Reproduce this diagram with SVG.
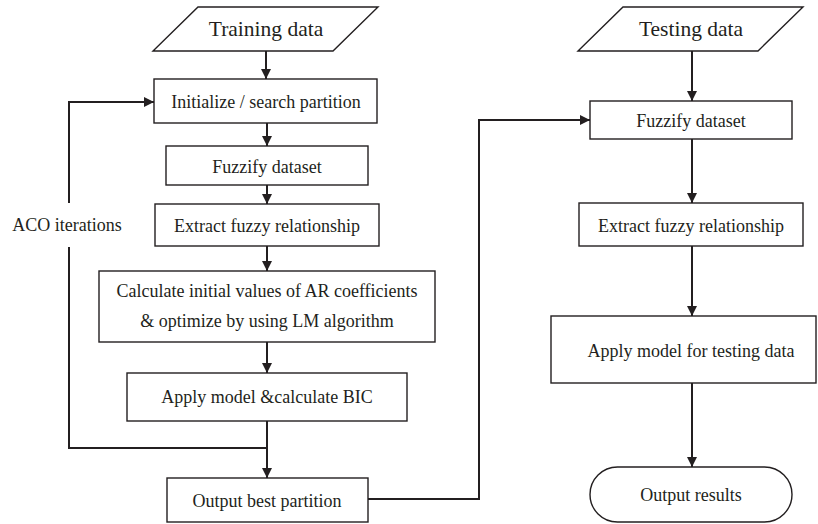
<svg xmlns="http://www.w3.org/2000/svg" width="818" height="524" viewBox="0 0 818 524">
<style>
.b{fill:#fff;stroke:#231f20;stroke-width:1.4}
.t{font-family:"Liberation Serif","Times New Roman",serif;font-size:18px;fill:#231f20;text-anchor:middle}
.tl{font-size:21.5px}
.c{fill:none;stroke:#231f20;stroke-width:2}
</style>
<defs>
<marker id="a" markerUnits="userSpaceOnUse" markerWidth="11" markerHeight="11" refX="10" refY="5" orient="auto">
<path d="M0,0 L10,5 L0,10 z" fill="#231f20"/>
</marker>
</defs>
<rect width="818" height="524" fill="#fff"/>
<g id="connectors">
<line class="c" x1="266" y1="51" x2="266" y2="79" marker-end="url(#a)"/>
<line class="c" x1="267" y1="123" x2="267" y2="146" marker-end="url(#a)"/>
<line class="c" x1="267" y1="185" x2="267" y2="204" marker-end="url(#a)"/>
<line class="c" x1="267" y1="246" x2="267" y2="271" marker-end="url(#a)"/>
<line class="c" x1="267" y1="342" x2="267" y2="373" marker-end="url(#a)"/>
<line class="c" x1="267" y1="421" x2="267" y2="478" marker-end="url(#a)"/>
<polyline class="c" points="267,448 69,448 69,247"/>
<polyline class="c" points="69,203 69,102 154,102" marker-end="url(#a)"/>
<polyline class="c" points="368,499 479,499 479,120 590,120" marker-end="url(#a)"/>
<line class="c" x1="692" y1="51" x2="692" y2="101" marker-end="url(#a)"/>
<line class="c" x1="692" y1="139" x2="692" y2="203" marker-end="url(#a)"/>
<line class="c" x1="692" y1="246" x2="692" y2="316" marker-end="url(#a)"/>
<line class="c" x1="692" y1="383" x2="692" y2="467" marker-end="url(#a)"/>
</g>
<g id="training-data">
<polygon class="b" points="198,7 378,7 333,51 153,51"/>
<text class="t tl" x="266" y="36">Training data</text>
</g>
<g id="init-partition">
<rect class="b" x="154" y="79" width="223" height="44"/>
<text class="t" x="266" y="108">Initialize / search partition</text>
</g>
<g id="fuzzify-train">
<rect class="b" x="166" y="146" width="202" height="39"/>
<text class="t" x="267" y="173">Fuzzify dataset</text>
</g>
<g id="extract-train">
<rect class="b" x="155" y="204" width="224" height="42"/>
<text class="t" x="267" y="232">Extract fuzzy relationship</text>
</g>
<g id="calc-ar">
<rect class="b" x="99" y="271" width="336" height="71"/>
<text class="t" x="267" y="297">Calculate initial values of AR coefficients</text>
<text class="t" x="267" y="327">&amp; optimize by using LM algorithm</text>
</g>
<g id="apply-bic">
<rect class="b" x="127" y="373" width="280" height="48"/>
<text class="t" x="267" y="403">Apply model &amp;calculate BIC</text>
</g>
<g id="output-best">
<rect class="b" x="167" y="478" width="201" height="44"/>
<text class="t" x="267" y="507">Output best partition</text>
</g>
<g id="aco-label">
<text class="t" x="67" y="231">ACO iterations</text>
</g>
<g id="testing-data">
<polygon class="b" points="623,7 803,7 758,51 578,51"/>
<text class="t tl" x="691" y="36">Testing data</text>
</g>
<g id="fuzzify-test">
<rect class="b" x="590" y="101" width="202" height="38"/>
<text class="t" x="691" y="127">Fuzzify dataset</text>
</g>
<g id="extract-test">
<rect class="b" x="579" y="203" width="224" height="43"/>
<text class="t" x="691" y="232">Extract fuzzy relationship</text>
</g>
<g id="apply-test">
<rect class="b" x="551" y="316" width="265" height="67"/>
<text class="t" x="691" y="357">Apply model for testing data</text>
</g>
<g id="output-results">
<rect class="b" x="590" y="467" width="202" height="55" rx="27.5" ry="27.5"/>
<text class="t" x="691" y="501">Output results</text>
</g>
</svg>
